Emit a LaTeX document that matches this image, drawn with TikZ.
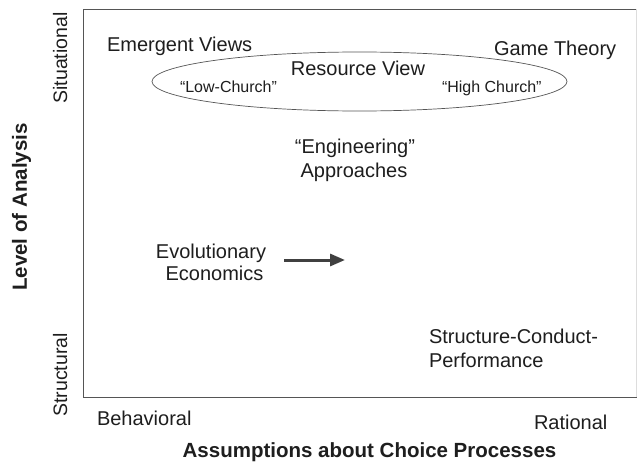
\documentclass[tikz,border=0pt]{standalone}
\usepackage{fontspec}
\setmainfont{Liberation Sans}
\usetikzlibrary{arrows.meta,shapes.geometric}
\definecolor{txt}{HTML}{1E1E1E}
\definecolor{frame}{HTML}{555555}
\begin{document}
\begin{tikzpicture}[x=1pt,y=-1pt,
  lbl/.style={inner sep=0pt,outer sep=0pt,text=txt,font=\fontsize{20}{24}\selectfont},
  small/.style={inner sep=0pt,outer sep=0pt,text=txt,font=\fontsize{16}{19}\selectfont},
  axis/.style={inner sep=0pt,outer sep=0pt,text=txt,font=\fontsize{20.5}{24}\selectfont\bfseries},
  side/.style={inner sep=0pt,outer sep=0pt,text=txt,font=\fontsize{19.5}{24}\selectfont,rotate=90,anchor=base},
  framelines/.style={draw=frame,line width=0.9pt},
  oval/.style={ellipse,draw=frame,line width=0.7pt,minimum width=415pt,minimum height=59pt,inner sep=0pt},
  bigarrow/.style={draw=txt!85,line width=3pt,-{Triangle[length=15pt,width=12pt]}}
]
\useasboundingbox (0,0) rectangle (637,463);
\fill[white] (0,0) rectangle (637,463);

% frame
\coordinate (tl) at (83,9);
\coordinate (tr) at (637,9);
\coordinate (bl) at (83,397);
\coordinate (br) at (637,397);
\draw[framelines] (tr) -- (tl) -- (bl) -- (br);
\draw[draw=frame!20,line width=0.6pt] (636,9) -- (636,397);

% ellipse
\node[oval] (rv) at (359.5,81.5) {};

% labels inside plot
\node[lbl,anchor=base west] (emv) at (107,51) {Emergent Views};
\node[lbl,anchor=base west] (gt) at (494,55) {Game Theory};
\node[lbl,anchor=base] (res) at (358,75.5) {Resource View};
\node[small,anchor=base west] (low) at (180,92) {“Low-Church”};
\node[small,anchor=base west] (high) at (442,92) {“High Church”};
\node[lbl,anchor=base] (eng1) at (355,153) {“Engineering”};
\node[lbl,anchor=base] (eng2) at (354,177) {Approaches};
\node[lbl,anchor=base] (evo1) at (211,258) {Evolutionary};
\node[lbl,anchor=base] (evo2) at (214.5,280) {Economics};
\node[lbl,anchor=base west] (scp1) at (429,343) {Structure-Conduct-};
\node[lbl,anchor=base west] (scp2) at (429,367) {Performance};

% arrow
\coordinate (arrS) at (284,260);
\coordinate (arrE) at (345,260);
\draw[bigarrow] (arrS) -- (arrE);

% axis labels
\node[lbl,anchor=base west] (beh) at (97,425) {Behavioral};
\node[lbl,anchor=base west] (rat) at (534,429) {Rational};
\node[axis,anchor=base] (xax) at (369.5,457) {Assumptions about Choice Processes};
\node[axis,rotate=90,anchor=base] (yax) at (27,207) {Level of Analysis};
\node[side] (sit) at (67,58) {Situational};
\node[side] (str) at (67,375) {Structural};
\end{tikzpicture}
\end{document}
